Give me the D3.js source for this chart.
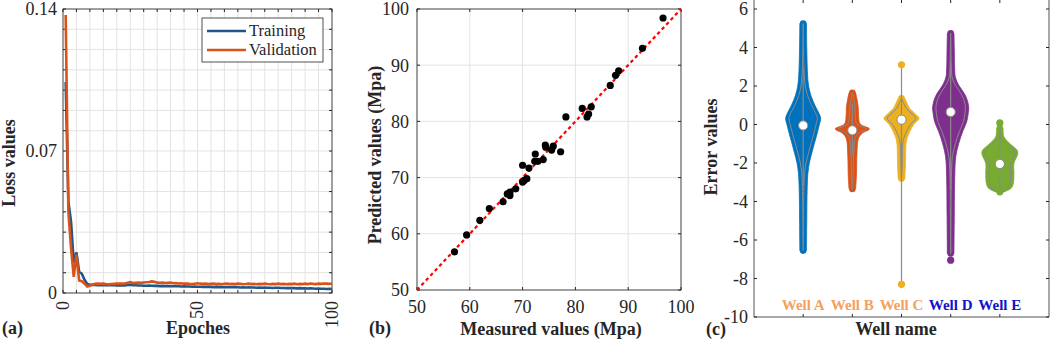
<!DOCTYPE html>
<html>
<head>
<meta charset="utf-8">
<script src="https://cdn.jsdelivr.net/npm/d3@7"></script>
<style>
body { margin: 0; background: #fff; }
svg { display: block; font-family: "Liberation Serif", "Times New Roman", serif; }
</style>
</head>
<body>
<div id="chart"></div>
<script>
// ---- (a) loss curves ----
const epochs = d3.range(1, 101);
const trainLoss = [0.104, 0.045, 0.035, 0.015, 0.020, 0.0105, 0.0095, 0.0065, 0.0045, 0.0041,
  0.0040, 0.0040, 0.0039, 0.0040, 0.0039, 0.0038, 0.0039, 0.0038, 0.0038, 0.0037,
  0.0038, 0.0037, 0.0037, 0.0039, 0.0041, 0.0039, 0.0038, 0.0037, 0.0037, 0.0036,
  0.0036, 0.0037, 0.0036, 0.0035, 0.0035, 0.0034, 0.0035, 0.0034, 0.0034, 0.0033,
  0.0033, 0.0034, 0.0033, 0.0032, 0.0033, 0.0032, 0.0032, 0.0031, 0.0032, 0.0031,
  0.0031, 0.0030, 0.0031, 0.0030, 0.0030, 0.0029, 0.0030, 0.0029, 0.0029, 0.0028,
  0.0029, 0.0028, 0.0028, 0.0029, 0.0028, 0.0027, 0.0028, 0.0027, 0.0028, 0.0027,
  0.0027, 0.0026, 0.0027, 0.0026, 0.0027, 0.0026, 0.0026, 0.0025, 0.0026, 0.0026,
  0.0025, 0.0025, 0.0024, 0.0025, 0.0024, 0.0024, 0.0023, 0.0024, 0.0023, 0.0023,
  0.0022, 0.0023, 0.0022, 0.0021, 0.0022, 0.0021, 0.0021, 0.0020, 0.0021, 0.0020];
const valLoss = [0.137, 0.040, 0.022, 0.008, 0.019, 0.0062, 0.0058, 0.0046, 0.0032, 0.0036,
  0.0042, 0.0045, 0.0046, 0.0045, 0.0046, 0.0044, 0.0043, 0.0044, 0.0045, 0.0046,
  0.0047, 0.0046, 0.0047, 0.0050, 0.0054, 0.0049, 0.0050, 0.0051, 0.0050, 0.0052,
  0.0053, 0.0054, 0.0057, 0.0055, 0.0051, 0.0050, 0.0052, 0.0049, 0.0050, 0.0051,
  0.0048, 0.0049, 0.0047, 0.0048, 0.0046, 0.0047, 0.0045, 0.0044, 0.0046, 0.0048,
  0.0046, 0.0045, 0.0046, 0.0044, 0.0045, 0.0046, 0.0044, 0.0045, 0.0043, 0.0045,
  0.0046, 0.0044, 0.0045, 0.0044, 0.0046, 0.0045, 0.0043, 0.0044, 0.0046, 0.0044,
  0.0045, 0.0043, 0.0045, 0.0044, 0.0046, 0.0044, 0.0043, 0.0045, 0.0044, 0.0046,
  0.0044, 0.0045, 0.0043, 0.0045, 0.0044, 0.0046, 0.0043, 0.0045, 0.0044, 0.0046,
  0.0044, 0.0047, 0.0045, 0.0044, 0.0046, 0.0045, 0.0047, 0.0046, 0.0045, 0.0047];
const lossTickLabels = [0, 0.07, 0.14];
const epochTickLabels = [0, 50, 100];

// ---- (b) measured vs predicted ----
const measured = [57.1, 59.4, 61.9, 63.7, 66.3, 67.1, 67.6, 67.6, 68.7, 70.0, 70.3, 70.8, 70.0, 71.2,
  72.3, 72.4, 72.9, 73.9, 74.3, 74.4, 75.5, 75.8, 77.2, 78.2, 81.3, 82.2, 82.5, 83.0,
  86.6, 87.6, 88.2, 92.7, 96.6];
const predicted = [56.8, 59.8, 62.4, 64.5, 65.7, 67.1, 66.8, 67.4, 68.0, 69.2, 69.5, 69.8, 72.2, 71.7,
  72.9, 74.2, 72.9, 73.2, 75.8, 75.4, 74.9, 75.6, 74.6, 80.8, 82.3, 80.8, 81.3, 82.6,
  86.4, 88.2, 89.0, 93.0, 98.4];
const strengthTicks = [50, 60, 70, 80, 90, 100];

// ---- (c) error violins ----
const wells = ["Well A", "Well B", "Well C", "Well D", "Well E"];
const wellColors = ["#0072BD", "#D95319", "#EDB120", "#7E2F8E", "#77AC30"];
const wellLabelColors = ["#F4A15F", "#F4A15F", "#F4A15F", "#1212C8", "#1212C8"];
const wellMedians = [-0.05, -0.3, 0.25, 0.65, -2.05];
const wellWhiskers = [[-3.2, 3.0], [-1.6, 1.1], [-8.3, 3.1], [-3.4, 3.3], [-3.3, -0.5]];
const wellOutliers = [[], [], [3.1, -8.3], [-7.05], [0.08]];
// [error value, relative density]
const densityA = [[5.25, 0], [4.0, 0.02], [3.0, 0.05], [2.5, 0.08], [2.0, 0.14], [1.5, 0.3], [1.0, 0.56],
  [0.5, 0.88], [0.3, 0.95], [0.0, 0.86], [-0.5, 0.7], [-1.0, 0.52], [-1.5, 0.35], [-2.0, 0.19],
  [-2.5, 0.1], [-3.0, 0.06], [-4.0, 0.03], [-5.0, 0.02], [-6.55, 0]];
const densityB = [[1.65, 0], [1.36, 0.08], [0.93, 0.17], [0.41, 0.2], [0.03, 0.3], [-0.23, 0.92],
  [-0.45, 0.45], [-0.72, 0.19], [-1.5, 0.09], [-2.7, 0.05], [-3.35, 0]];
const densityC = [[1.36, 0], [1.1, 0.15], [0.84, 0.32], [0.55, 0.7], [0.32, 0.95], [0.0, 0.6],
  [-0.29, 0.38], [-0.8, 0.12], [-1.32, 0.06], [-2.2, 0.04], [-2.8, 0]];
const densityD = [[4.74, 0], [4.0, 0.02], [2.83, 0.05], [2.48, 0.09], [2.14, 0.25], [1.44, 0.8],
  [0.92, 0.98], [0.58, 0.95], [0.15, 0.85], [-0.37, 0.58], [-0.98, 0.32], [-1.67, 0.12],
  [-2.71, 0.05], [-4.8, 0.02], [-6.7, 0]];
const densityE = [[-0.2, 0], [-0.63, 0.05], [-1.06, 0.55], [-1.3, 0.9], [-1.5, 0.98], [-2.02, 0.72],
  [-2.54, 0.72], [-3.05, 0.68], [-3.3, 0.55], [-3.45, 0.22], [-3.52, 0]];
const wellDensities = [densityA, densityB, densityC, densityD, densityE];
const errorTicks = [-10, -8, -6, -4, -2, 0, 2, 4, 6];

const width = 1052, height = 342;
const axisColor = "#262626", gridColor = "#e3e3e3";

const svg = d3.select("#chart").append("svg")
  .attr("width", width)
  .attr("height", height);

function label(g, x, y, txt, opts) {
  const t = g.append("text").attr("x", x).attr("y", y).text(txt)
    .attr("font-size", opts.size || 18)
    .attr("fill", opts.fill || axisColor)
    .attr("text-anchor", opts.anchor || "middle");
  if (opts.bold) t.attr("font-weight", "bold");
  if (opts.rotate) t.attr("transform", `rotate(-90,${x},${y})`);
  if (opts.dy) t.attr("dy", opts.dy);
  return t;
}

// ================= panel (a) =================
const xA = d3.scaleLinear().domain([0, 100]).range([63, 332]);
const yA = d3.scaleLinear().domain([0, 0.14]).range([293, 9]);
const gA = svg.append("g");

gA.selectAll(".gx").data(d3.range(0, 101, 5)).enter().append("line")
  .attr("x1", d => xA(d)).attr("x2", d => xA(d))
  .attr("y1", yA(0)).attr("y2", yA(0.14))
  .attr("stroke", gridColor);
gA.selectAll(".gy").data(d3.range(0, 15).map(i => i * 0.01)).enter().append("line")
  .attr("x1", xA(0)).attr("x2", xA(100))
  .attr("y1", d => yA(d)).attr("y2", d => yA(d))
  .attr("stroke", gridColor);

gA.append("rect")
  .attr("x", xA(0)).attr("y", yA(0.14))
  .attr("width", xA(100) - xA(0)).attr("height", yA(0) - yA(0.14))
  .attr("fill", "none").attr("stroke", axisColor).attr("stroke-width", 0.8);

// tick marks (inside) on all four sides
d3.range(0, 101, 5).forEach(d => {
  gA.append("line").attr("x1", xA(d)).attr("x2", xA(d)).attr("y1", yA(0)).attr("y2", yA(0) - 3).attr("stroke", axisColor);
  gA.append("line").attr("x1", xA(d)).attr("x2", xA(d)).attr("y1", yA(0.14)).attr("y2", yA(0.14) + 3).attr("stroke", axisColor);
});
d3.range(0, 15).forEach(i => {
  const v = i * 0.01;
  gA.append("line").attr("x1", xA(0)).attr("x2", xA(0) + 3).attr("y1", yA(v)).attr("y2", yA(v)).attr("stroke", axisColor);
  gA.append("line").attr("x1", xA(100)).attr("x2", xA(100) - 3).attr("y1", yA(v)).attr("y2", yA(v)).attr("stroke", axisColor);
});

lossTickLabels.forEach(v => label(gA, xA(0) - 6, yA(v), v === 0 ? "0" : String(v), { anchor: "end", dy: "0.36em", size: 18 }));
epochTickLabels.forEach(v => {
  const x = xA(v), y = yA(0) + 8;
  gA.append("text").attr("x", x).attr("y", y).text(v)
    .attr("font-size", 18).attr("fill", axisColor)
    .attr("text-anchor", "end").attr("dy", "0.33em")
    .attr("transform", `rotate(-90,${x},${y})`);
});

const lineA = (series) => d3.line()
  .x((d, i) => xA(epochs[i]))
  .y(d => yA(d))(series);

gA.append("path").attr("d", lineA(trainLoss))
  .attr("fill", "none").attr("stroke", "#20578A").attr("stroke-width", 2.6);
gA.append("path").attr("d", lineA(valLoss))
  .attr("fill", "none").attr("stroke", "#D95319").attr("stroke-width", 2.6);

// legend
const leg = gA.append("g");
leg.append("rect").attr("x", 202).attr("y", 18).attr("width", 121).attr("height", 44)
  .attr("fill", "#fff").attr("stroke", axisColor).attr("stroke-width", 0.8);
[["Training", "#20578A"], ["Validation", "#D95319"]].forEach((d, i) => {
  const y = 31 + i * 19;
  leg.append("line").attr("x1", 207).attr("x2", 246).attr("y1", y).attr("y2", y)
    .attr("stroke", d[1]).attr("stroke-width", 2.6);
  leg.append("text").attr("x", 249).attr("y", y).attr("dy", "0.33em")
    .attr("font-size", 16.5).attr("fill", axisColor).text(d[0]);
});

label(gA, 15, 163, "Loss values", { bold: true, rotate: true, size: 18 });
label(gA, 198, 334, "Epoches", { bold: true, size: 18 });
label(gA, 2, 334, "(a)", { bold: true, anchor: "start", size: 18 });

// ================= panel (b) =================
const xB = d3.scaleLinear().domain([50, 100]).range([417, 681]);
const yB = d3.scaleLinear().domain([50, 100]).range([290, 9]);
const gB = svg.append("g");

gB.selectAll(".gx").data(strengthTicks).enter().append("line")
  .attr("x1", d => xB(d)).attr("x2", d => xB(d)).attr("y1", yB(50)).attr("y2", yB(100))
  .attr("stroke", gridColor);
gB.selectAll(".gy").data(strengthTicks).enter().append("line")
  .attr("x1", xB(50)).attr("x2", xB(100)).attr("y1", d => yB(d)).attr("y2", d => yB(d))
  .attr("stroke", gridColor);
gB.append("rect")
  .attr("x", xB(50)).attr("y", yB(100))
  .attr("width", xB(100) - xB(50)).attr("height", yB(50) - yB(100))
  .attr("fill", "none").attr("stroke", axisColor).attr("stroke-width", 0.8);
strengthTicks.forEach(d => {
  gB.append("line").attr("x1", xB(d)).attr("x2", xB(d)).attr("y1", yB(50)).attr("y2", yB(50) - 3).attr("stroke", axisColor);
  gB.append("line").attr("x1", xB(d)).attr("x2", xB(d)).attr("y1", yB(100)).attr("y2", yB(100) + 3).attr("stroke", axisColor);
  gB.append("line").attr("x1", xB(50)).attr("x2", xB(50) + 3).attr("y1", yB(d)).attr("y2", yB(d)).attr("stroke", axisColor);
  gB.append("line").attr("x1", xB(100)).attr("x2", xB(100) - 3).attr("y1", yB(d)).attr("y2", yB(d)).attr("stroke", axisColor);
  label(gB, xB(50) - 8, yB(d), d, { anchor: "end", dy: "0.36em", size: 18 });
  label(gB, xB(d), yB(50) + 17, d, { size: 18, dy: "0.33em" });
});

gB.append("line")
  .attr("x1", xB(50)).attr("y1", yB(50)).attr("x2", xB(100)).attr("y2", yB(100))
  .attr("stroke", "#ff0000").attr("stroke-width", 2.2).attr("stroke-dasharray", "3.5,3");

gB.selectAll("circle.pt").data(measured).enter().append("circle")
  .attr("cx", d => xB(d))
  .attr("cy", (d, i) => yB(predicted[i]))
  .attr("r", 3.6)
  .attr("fill", "#000");

label(gB, 381, 155, "Predicted values (Mpa)", { bold: true, rotate: true, size: 18 });
label(gB, 551, 335, "Measured values (Mpa)", { bold: true, size: 18 });
label(gB, 369, 334, "(b)", { bold: true, anchor: "start", size: 18 });

// ================= panel (c) =================
const xC = d3.scalePoint().domain(wells).range([754, 1049]).padding(1);
const yC = d3.scaleLinear().domain([-10, 6]).range([317, 9]);
const gC = svg.append("g");

gC.append("line").attr("x1", 754).attr("x2", 754).attr("y1", 0).attr("y2", yC(-10)).attr("stroke", axisColor).attr("stroke-width", 0.8);
gC.append("line").attr("x1", 1049).attr("x2", 1049).attr("y1", 0).attr("y2", yC(-10)).attr("stroke", axisColor).attr("stroke-width", 0.8);
gC.append("line").attr("x1", 754).attr("x2", 1049).attr("y1", yC(-10)).attr("y2", yC(-10)).attr("stroke", axisColor).attr("stroke-width", 0.8);
errorTicks.forEach(v => {
  gC.append("line").attr("x1", 754).attr("x2", 757).attr("y1", yC(v)).attr("y2", yC(v)).attr("stroke", axisColor);
  gC.append("line").attr("x1", 1049).attr("x2", 1046).attr("y1", yC(v)).attr("y2", yC(v)).attr("stroke", axisColor);
  label(gC, 748, yC(v), v, { anchor: "end", dy: "0.36em", size: 18 });
});
wells.forEach(w => {
  gC.append("line").attr("x1", xC(w)).attr("x2", xC(w)).attr("y1", yC(-10)).attr("y2", yC(-10) - 3).attr("stroke", axisColor);
  gC.append("line").attr("x1", xC(w)).attr("x2", xC(w)).attr("y1", 0).attr("y2", 3).attr("stroke", axisColor);
});

const maxHalf = 15, dotR = 3.3, grey = "#8a8a8a";
wells.forEach((w, i) => {
  const cx = xC(w);
  const dens = wellDensities[i];
  const colour = wellColors[i];
  const outer = d3.area()
    .y(d => yC(d[0]))
    .x0(d => cx - d[1] * maxHalf - dotR)
    .x1(d => cx + d[1] * maxHalf + dotR)
    .curve(d3.curveCatmullRom);
  const inner = d3.area()
    .y(d => yC(d[0]))
    .x0(d => cx - d[1] * maxHalf)
    .x1(d => cx + d[1] * maxHalf)
    .curve(d3.curveCatmullRom);
  gC.append("path").attr("d", outer(dens)).attr("fill", colour)
    .attr("stroke", colour).attr("stroke-width", 0.8);
  // rounded ends of the point cloud
  [dens[0][0], dens[dens.length - 1][0]].forEach(v => {
    gC.append("circle").attr("cx", cx).attr("cy", yC(v)).attr("r", dotR).attr("fill", colour);
  });
  gC.append("path").attr("d", inner(dens)).attr("fill", "none")
    .attr("stroke", grey).attr("stroke-width", 1);
  gC.append("line").attr("x1", cx).attr("x2", cx)
    .attr("y1", yC(wellWhiskers[i][0])).attr("y2", yC(wellWhiskers[i][1]))
    .attr("stroke", grey).attr("stroke-width", 1.2);
  wellOutliers[i].forEach(v => {
    gC.append("circle").attr("cx", cx).attr("cy", yC(v)).attr("r", 3.6).attr("fill", colour);
  });
  gC.append("circle").attr("cx", cx).attr("cy", yC(wellMedians[i])).attr("r", 4.6)
    .attr("fill", "#fff").attr("stroke", grey).attr("stroke-width", 1);
  gC.append("text").attr("x", cx).attr("y", 305).attr("dy", "0.33em")
    .attr("text-anchor", "middle").attr("font-weight", "bold").attr("font-size", 15)
    .attr("fill", wellLabelColors[i]).text(w);
});

label(gC, 717, 147, "Error values", { bold: true, rotate: true, size: 18 });
label(gC, 896, 335, "Well name", { bold: true, size: 18 });
label(gC, 706, 335, "(c)", { bold: true, anchor: "start", size: 18 });
</script>
</body>
</html>
